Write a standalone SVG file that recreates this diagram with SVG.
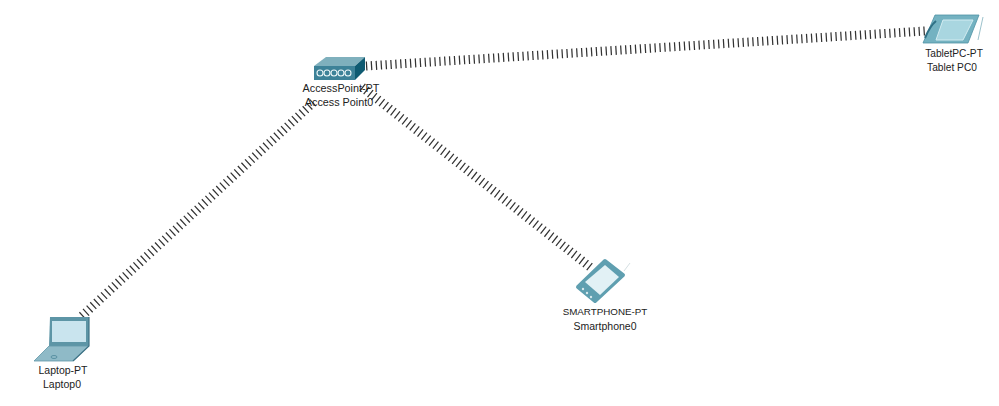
<svg xmlns="http://www.w3.org/2000/svg" width="999" height="406" viewBox="0 0 999 406">
<style>
text{font-family:"Liberation Sans",Arial,sans-serif;font-size:10.5px;fill:#222;text-anchor:middle}
.link{stroke:#333;stroke-width:9;stroke-dasharray:1.25 3.65;fill:none}
.ring{fill:none;stroke:#eaf5f7;stroke-width:1.1}
</style>
<rect width="999" height="406" fill="#fff"/>
<g id="connectors">
<path class="link" d="M366 66L925 31"/>
<path class="link" d="M82 316L316 100"/>
<path class="link" d="M590 267L362 87"/>
</g>
<g id="access-point">
<path d="M314 66L326 57H365L355 66Z" fill="#7fb0bd"/>
<path d="M355 66L365 57V70L355 80Z" fill="#0f5b72"/>
<rect x="314" y="66" width="41" height="14" fill="#3d8298"/>
<circle class="ring" cx="320" cy="73" r="3"/><circle class="ring" cx="327" cy="73" r="3"/><circle class="ring" cx="334" cy="73" r="3"/><circle class="ring" cx="341" cy="73" r="3"/><circle class="ring" cx="348" cy="73" r="3"/>
<text x="341" y="92" style="font-size:10.8px">AccessPoint-PT</text>
<text x="339" y="106" style="font-size:10.8px">Access Point0</text>
</g>
<g id="tablet">
<path d="M935 15H979L968 43H923Z" fill="#74b2c1" stroke="#4f92a4" stroke-width=".8"/>
<path d="M943 20H973L963 40H936Z" fill="#a9d6e0" stroke="#d3ecf1"/>
<path d="M925 38Q930 26 936 21" fill="none" stroke="#2f7085" stroke-width="2"/>
<path d="M983 17L978 40" stroke="#9cc2cc" stroke-width="1"/>
<text x="954" y="57" style="font-size:10.2px">TabletPC-PT</text>
<text x="952" y="71" style="font-size:10.2px">Tablet PC0</text>
</g>
<g id="smartphone">
<path d="M624 271L630 263" stroke="#d5e0e3" stroke-width="1"/>
<path d="M605 261L623 275L595 301L578 287Z" fill="#5f9fb0" stroke="#5f9fb0" stroke-linejoin="round" stroke-width="4"/>
<path d="M605 265L619 277L600 295L585 282Z" fill="#e2f1f5"/>
<circle cx="583" cy="289" r="1.2" fill="#d7e8ec"/><circle cx="587" cy="293" r="1.2" fill="#d7e8ec"/><circle cx="591" cy="297" r="1.2" fill="#d7e8ec"/>
<text x="605" y="315" style="font-size:9.8px">SMARTPHONE-PT</text>
<text x="605" y="330">Smartphone0</text>
</g>
<g id="laptop">
<path d="M50 317H89V346H49Z" fill="#5d95a6"/>
<rect x="52" y="321" width="34" height="21" fill="#c9e4ee"/>
<path d="M49 346H89L73 361H34Z" fill="#8fbac7" stroke="#5f97a8" stroke-width=".8"/>
<path d="M89 317V346L73 361" fill="none" stroke="#3f7386" stroke-width="1.2"/>
<ellipse cx="54" cy="357" rx="3" ry="1.5" fill="none" stroke="#4b8799" stroke-width=".8"/>
<text x="63" y="374">Laptop-PT</text>
<text x="62" y="388">Laptop0</text>
</g>
</svg>
